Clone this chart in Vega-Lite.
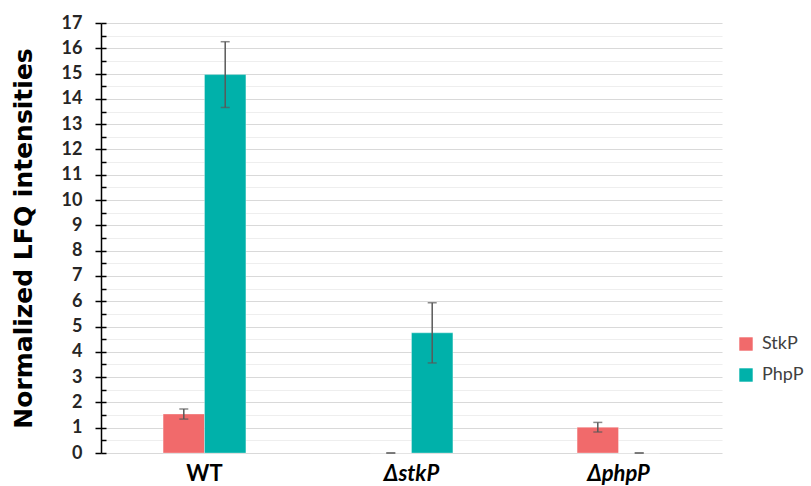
{
  "$schema": "https://vega.github.io/schema/vega-lite/v6.json",
  "width": 621,
  "height": 430,
  "autosize": "none",
  "padding": {"left": 101, "top": 23, "right": 89, "bottom": 33},
  "background": "white",
  "config": {
    "view": {"stroke": null},
    "font": "Lato",
    "axis": {"labelFont": "Lato", "titleFont": "DejaVu Sans"},
    "legend": {"labelFont": "Lato"}
  },
  "data": {
    "values": [
      {"strain": "WT", "protein": "StkP", "value": 1.54, "low": 1.34, "high": 1.74},
      {"strain": "WT", "protein": "PhpP", "value": 14.96, "low": 13.66, "high": 16.26},
      {"strain": "ΔstkP", "protein": "StkP", "value": 0, "low": 0, "high": 0},
      {"strain": "ΔstkP", "protein": "PhpP", "value": 4.75, "low": 3.56, "high": 5.94},
      {"strain": "ΔphpP", "protein": "StkP", "value": 1.02, "low": 0.83, "high": 1.21},
      {"strain": "ΔphpP", "protein": "PhpP", "value": 0, "low": 0, "high": 0}
    ]
  },
  "encoding": {
    "x": {
      "field": "strain",
      "type": "nominal",
      "sort": ["WT", "ΔstkP", "ΔphpP"],
      "scale": {"paddingInner": 0.6, "paddingOuter": 0.3},
      "axis": {
        "title": null,
        "domain": false,
        "ticks": false,
        "labelAngle": 0,
        "labelFontSize": 22,
        "labelFontWeight": "bold",
        "labelColor": "#000000",
        "labelPadding": 10,
        "labelFontStyle": {"condition": {"test": "datum.value === 'WT'", "value": "normal"}, "value": "italic"}
      }
    },
    "xOffset": {"field": "protein", "type": "nominal", "sort": ["StkP", "PhpP"], "scale": {"paddingInner": 0, "paddingOuter": 0}}
  },
  "layer": [
    {
      "mark": {"type": "bar", "stroke": "white", "strokeOpacity": 0.4, "strokeWidth": 0.8},
      "encoding": {
        "y": {
          "field": "value",
          "type": "quantitative",
          "scale": {"domain": [0, 17], "nice": false},
          "axis": {
            "title": "Normalized LFQ intensities",
            "titleFontSize": 25,
            "titleFontWeight": "bold",
            "titleColor": "#000000",
            "titlePadding": 25,
            "values": [0, 0.5, 1, 1.5, 2, 2.5, 3, 3.5, 4, 4.5, 5, 5.5, 6, 6.5, 7, 7.5, 8, 8.5, 9, 9.5, 10, 10.5, 11, 11.5, 12, 12.5, 13, 13.5, 14, 14.5, 15, 15.5, 16, 16.5, 17],
            "labelExpr": "datum.value % 1 === 0 ? format(datum.value, 'd') : ''",
            "labelFontSize": 18,
            "labelFontWeight": "bold",
            "labelColor": "#262626",
            "labelPadding": 13,
            "domainColor": "#000000",
            "domainWidth": 1.5,
            "tickColor": "#000000",
            "tickWidth": 1.5,
            "tickSize": {"condition": {"test": "datum.value % 1 === 0", "value": 6}, "value": 0},
            "grid": true,
            "gridColor": {"condition": {"test": "datum.value % 1 === 0", "value": "#d9d9d9"}, "value": "#eeeeee"},
            "gridWidth": 1.2
          }
        },
        "color": {
          "field": "protein",
          "type": "nominal",
          "sort": ["StkP", "PhpP"],
          "scale": {"domain": ["StkP", "PhpP"], "range": ["#F16A6B", "#00B1AA"]},
          "legend": {
            "title": null,
            "orient": "none",
            "legendX": 636,
            "legendY": 312,
            "symbolType": "square",
            "symbolSize": 180,
            "symbolStrokeWidth": 0,
            "labelFontSize": 18,
            "labelColor": "#404040",
            "labelOffset": 7,
            "rowPadding": 13
          }
        }
      }
    },
    {
      "mark": {"type": "rule", "color": "#595959", "strokeWidth": 1.5},
      "encoding": {
        "y": {
          "field": "low",
          "type": "quantitative",
          "scale": {"domain": [0, 17], "nice": false},
          "axis": {
            "orient": "left",
            "title": null,
            "labels": false,
            "domain": false,
            "grid": false,
            "offset": -5,
            "values": [0, 0.5, 1, 1.5, 2, 2.5, 3, 3.5, 4, 4.5, 5, 5.5, 6, 6.5, 7, 7.5, 8, 8.5, 9, 9.5, 10, 10.5, 11, 11.5, 12, 12.5, 13, 13.5, 14, 14.5, 15, 15.5, 16, 16.5, 17],
            "tickSize": 5,
            "tickWidth": 1.5,
            "tickColor": "#000000"
          }
        },
        "y2": {"field": "high"}
      }
    },
    {
      "mark": {"type": "tick", "color": "#595959", "thickness": 1.5, "size": 9},
      "encoding": {
        "y": {"field": "high", "type": "quantitative", "axis": null}
      }
    },
    {
      "mark": {"type": "tick", "color": "#595959", "thickness": 1.5, "size": 9},
      "encoding": {
        "y": {"field": "low", "type": "quantitative", "axis": null}
      }
    }
  ],
  "resolve": {"axis": {"y": "independent"}}
}
